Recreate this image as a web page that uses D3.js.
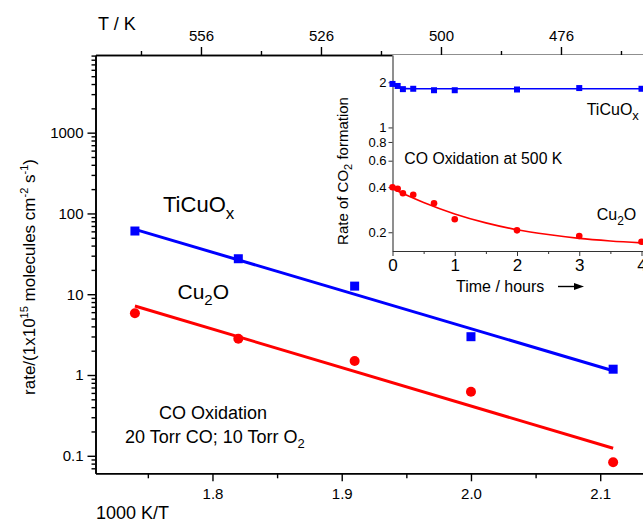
<!DOCTYPE html>
<html><head><meta charset="utf-8">
<script src="https://cdn.jsdelivr.net/npm/d3@7/dist/d3.min.js"></script>
<style>
html,body{margin:0;padding:0;background:#fff;overflow:hidden;}
text{font-family:"Liberation Sans",Arial,sans-serif;fill:#000;}
</style></head>
<body>
<svg id="chart" width="643" height="521"></svg>
<script>
// ---- main chart data ----
const invT = [1.74, 1.82, 1.91, 2.00, 2.11];
const ticuoxRate = [60.6, 27.5, 12.6, 2.98, 1.18];
const cu2oRate = [5.8, 2.81, 1.49, 0.62, 0.083];
const fitInvT = [1.74, 2.11];
const ticuoxFit = [63.6, 1.13];
const cu2oFit = [7.14, 0.124];
const bottomTicks = [1.8, 1.9, 2.0, 2.1];
const bottomMinor = [1.75, 1.85, 1.95, 2.05, 2.15];
const topTicks = [1.8, 1.9, 2.0, 2.1];      // 1000/T positions
const topLabels = ["556", "526", "500", "476"];
const topMinor = [1.75, 1.85, 1.95, 2.05, 2.15];
const yTicks = [0.1, 1, 10, 100, 1000];
const yLabels = ["0.1", "1", "10", "100", "1000"];

// ---- inset data ----
const insetTime = [0, 0.083, 0.167, 0.333, 0.667, 1, 2, 3, 4];
const ticuoxInset = [1.95, 1.89, 1.80, 1.81, 1.77, 1.77, 1.79, 1.83, 1.81];
const cu2oInset = [0.399, 0.39, 0.364, 0.356, 0.312, 0.244, 0.206, 0.189, 0.173];
const insetFitTime = [0, 0.1, 0.2, 0.5, 1, 1.5, 2, 2.5, 3, 3.5, 4];
const ticuoxInsetFit = [1.93, 1.85, 1.815, 1.81, 1.81, 1.81, 1.81, 1.81, 1.81, 1.81, 1.81];
const cu2oFitTime = [0, 0.5, 1, 1.5, 2, 2.5, 3, 3.5, 4];
const cu2oInsetFit = [0.39, 0.316, 0.265, 0.231, 0.208, 0.193, 0.182, 0.175, 0.170];
const insetXTicks = [0, 1, 2, 3, 4];
const insetXMinor = [0.5, 1.5, 2.5, 3.5];
const insetYTicks = [0.2, 0.4, 0.6, 0.8, 1, 2];
const insetYLabels = ["0.2", "0.4", "0.6", "0.8", "1", "2"];

const BLUE = "#0000ff", RED = "#ff0000";
const svg = d3.select("#chart");

// ---- main plot geometry ----
const M = {left: 95.5, top: 55};
const W = 564.5, H = 418.3;
const x = d3.scaleLinear().domain([1.7095, 1.7095 + W / 1292.5]).range([0, W]);
const xTop = d3.scaleLinear().domain([1.7121, 1.7121 + W / 1200]).range([0, W]);
const y = d3.scaleLog().domain([0.0607, 9150]).range([H, 0]);

const g = svg.append("g").attr("transform", `translate(${M.left},${M.top})`);

// bottom axis
g.append("g").attr("transform", `translate(0,${H})`)
  .call(d3.axisBottom(x).tickValues(bottomTicks).tickFormat(d3.format(".1f")).tickSize(8).tickSizeOuter(0).tickPadding(7));
g.append("g").attr("transform", `translate(0,${H})`)
  .call(d3.axisBottom(x).tickValues(bottomMinor).tickFormat("").tickSize(5).tickSizeOuter(0));
// top axis
g.append("g").call(d3.axisTop(xTop).tickValues(topTicks).tickFormat((d, i) => topLabels[i]).tickSize(8).tickSizeOuter(0).tickPadding(6));
g.append("g").call(d3.axisTop(xTop).tickValues(topMinor).tickFormat("").tickSize(4).tickSizeOuter(0));
// left axis
const yMinor = [];
for (let e = -2; e <= 3; e++) for (let m = 2; m <= 9; m++) {
  const v = m * Math.pow(10, e);
  if (v >= y.domain()[0] && v <= y.domain()[1]) yMinor.push(v);
}
g.append("g").call(d3.axisLeft(y).tickValues(yMinor).tickFormat("").tickSize(4).tickSizeOuter(0));
g.append("g").call(d3.axisLeft(y).tickValues(yTicks).tickFormat((d, i) => yLabels[i]).tickSize(8).tickSizeOuter(0).tickPadding(4));

g.selectAll(".domain").attr("stroke", "#000").attr("stroke-width", 1.6);
g.selectAll(".tick line").attr("stroke", "#000").attr("stroke-width", 1.4);
g.selectAll(".tick text").style("font-size", "15px").style("font-family", '"Liberation Sans",Arial,sans-serif');

// fit lines
const lineMain = d3.line().x(d => x(d[0])).y(d => y(d[1]));
g.append("path").datum(fitInvT.map((v, i) => [v, ticuoxFit[i]]))
  .attr("d", lineMain).attr("stroke", BLUE).attr("stroke-width", 3).attr("fill", "none");
g.append("path").datum(fitInvT.map((v, i) => [v, cu2oFit[i]]))
  .attr("d", lineMain).attr("stroke", RED).attr("stroke-width", 3).attr("fill", "none");
// markers
const sq = 9;
g.selectAll(".sqm").data(invT.map((v, i) => [v, ticuoxRate[i]])).join("rect")
  .attr("x", d => x(d[0]) - sq / 2).attr("y", d => y(d[1]) - sq / 2)
  .attr("width", sq).attr("height", sq).attr("fill", BLUE);
g.selectAll(".cm").data(invT.map((v, i) => [v, cu2oRate[i]])).join("circle")
  .attr("cx", d => x(d[0])).attr("cy", d => y(d[1])).attr("r", 5).attr("fill", RED);

// main texts
function sublabel(parent, tx, ty, main, sub, tail, size, subSize) {
  const t = parent.append("text").attr("x", tx).attr("y", ty).style("font-size", size + "px");
  t.append("tspan").text(main);
  t.append("tspan").attr("dy", size * 0.3).style("font-size", subSize + "px").text(sub);
  if (tail) t.append("tspan").attr("dy", -size * 0.3).text(tail);
  return t;
}
sublabel(svg, 163, 212, "TiCuO", "x", "", 22, 17);
sublabel(svg, 177.5, 299, "Cu", "2", "O", 21, 15);
svg.append("text").attr("x", 213).attr("y", 418.5).attr("text-anchor", "middle").style("font-size", "18px").text("CO Oxidation");
sublabel(svg, 125, 442.5, "20 Torr CO; 10 Torr O", "2", "", 18, 13);

svg.append("text").attr("x", 96).attr("y", 518.5).style("font-size", "18px").text("1000 K/T");
svg.append("text").attr("x", 98).attr("y", 29.5).style("font-size", "18px").text("T / K");

// y label
const yl = svg.append("text").attr("transform", "translate(35,277) rotate(-90)")
  .attr("text-anchor", "middle").style("font-size", "17px");
yl.append("tspan").text("rate/(1x10");
yl.append("tspan").attr("dy", -7).style("font-size", "11px").text("15");
yl.append("tspan").attr("dy", 7).text(" molecules cm");
yl.append("tspan").attr("dy", -7).style("font-size", "11px").text("-2");
yl.append("tspan").attr("dy", 7).text(" s");
yl.append("tspan").attr("dy", -7).style("font-size", "11px").text("-1");
yl.append("tspan").attr("dy", 7).text(")");

// ---- inset ----
const I = {left: 392.5, top: 55};
const IW = 270, IH = 196;
const xi = d3.scaleLinear().domain([0, IW / 62.25]).range([0, IW]);
const yi = d3.scaleLog().domain([0.15, 3.04]).range([IH, 0]);
const gi = svg.append("g").attr("transform", `translate(${I.left},${I.top})`);
gi.append("rect").attr("width", IW).attr("height", IH).attr("fill", "#fff");

const gix = gi.append("g").attr("transform", `translate(0,${IH})`)
  .call(d3.axisBottom(xi).tickValues(insetXTicks).tickFormat(d3.format("d")).tickSize(5).tickSizeOuter(0).tickPadding(3));
gi.append("g").attr("transform", `translate(0,${IH})`)
  .call(d3.axisBottom(xi).tickValues(insetXMinor).tickFormat("").tickSize(3).tickSizeOuter(0));
const giy = gi.append("g").call(d3.axisLeft(yi).tickValues(insetYTicks).tickFormat((d, i) => insetYLabels[i]).tickSize(4).tickSizeOuter(0).tickPadding(2));
gi.selectAll(".domain").attr("stroke", "#333").attr("stroke-width", 1.1);
gi.selectAll(".tick line").attr("stroke", "#333").attr("stroke-width", 1);
gi.selectAll(".tick text").style("font-family", '"Liberation Sans",Arial,sans-serif');
giy.selectAll(".tick text").style("font-size", "13px");
gix.selectAll(".tick text").style("font-size", "17px");

const lineI = d3.line().x(d => xi(d[0])).y(d => yi(d[1])).curve(d3.curveMonotoneX);
gi.append("path").datum(insetFitTime.map((t, i) => [t, ticuoxInsetFit[i]]))
  .attr("d", lineI).attr("stroke", BLUE).attr("stroke-width", 1.6).attr("fill", "none");
gi.append("path").datum(cu2oFitTime.map((t, i) => [t, cu2oInsetFit[i]]))
  .attr("d", lineI).attr("stroke", RED).attr("stroke-width", 1.6).attr("fill", "none");
const sqi = 6;
gi.selectAll(".sqi").data(insetTime.map((t, i) => [t, ticuoxInset[i]])).join("rect")
  .attr("x", d => xi(d[0]) - sqi / 2).attr("y", d => yi(d[1]) - sqi / 2)
  .attr("width", sqi).attr("height", sqi).attr("fill", BLUE);
gi.selectAll(".ci").data(insetTime.map((t, i) => [t, cu2oInset[i]])).join("circle")
  .attr("cx", d => xi(d[0])).attr("cy", d => yi(d[1])).attr("r", 3.3).attr("fill", RED);

sublabel(svg, 586.7, 115, "TiCuO", "x", "", 16, 13);
sublabel(svg, 596.7, 220, "Cu", "2", "O", 16, 12);
svg.append("text").attr("x", 404.3).attr("y", 163.5).style("font-size", "15.8px").text("CO Oxidation at 500 K");
svg.append("text").attr("x", 456).attr("y", 291.5).style("font-size", "16px").text("Time / hours");
svg.append("line").attr("x1", 558).attr("x2", 575).attr("y1", 286.5).attr("y2", 286.5).attr("stroke", "#000").attr("stroke-width", 1.4);
svg.append("path").attr("d", "M574,283 L584,286.5 L574,290 Z").attr("fill", "#000");

const il = svg.append("text").attr("transform", "translate(348,171) rotate(-90)")
  .attr("text-anchor", "middle").style("font-size", "15px");
il.append("tspan").text("Rate of CO");
il.append("tspan").attr("dy", 4).style("font-size", "11px").text("2");
il.append("tspan").attr("dy", -4).text(" formation");
</script>
</body></html>
